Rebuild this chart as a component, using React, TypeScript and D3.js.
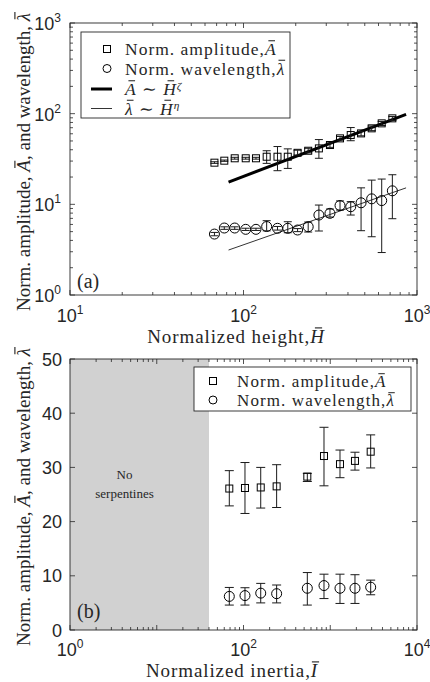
import React, { useRef, useEffect } from 'react';
import * as d3 from 'd3';

// ---------- Panel (a): vs normalized height ----------
const heightH = [68, 77.5, 89, 103, 118, 136, 157, 180, 205, 236, 272, 315, 360, 415, 476, 548, 626, 721];
const ampA = [28.8, 30.3, 32.2, 32.2, 32.2, 33.5, 33.5, 33.5, 37.0, 39.0, 41.4, 45.1, 53.4, 58.1, 60.6, 68.9, 78.2, 88.8];
const ampALo = [28.3, 29.8, 31.5, 31.5, 31.5, 28.3, 23.5, 24.9, 35.0, 37.0, 32.2, 42.5, 51.0, 50.3, 57.0, 65.0, 74.0, 84.0];
const ampAHi = [29.5, 30.8, 33.0, 33.0, 33.0, 39.0, 43.4, 40.9, 39.5, 41.5, 51.8, 47.5, 56.0, 70.3, 64.0, 73.0, 82.0, 93.0];
const wavA = [4.70, 5.48, 5.48, 5.30, 5.30, 5.69, 5.44, 5.44, 5.21, 5.66, 7.62, 7.96, 9.70, 9.41, 10.4, 11.5, 11.0, 14.1];
const wavALo = [4.5, 5.3, 5.3, 5.15, 5.15, 5.1, 5.2, 4.86, 5.0, 4.95, 5.08, 7.24, 8.65, 7.62, 5.12, 4.39, 2.94, 6.94];
const wavAHi = [4.9, 5.65, 5.65, 5.45, 5.45, 6.6, 5.7, 6.43, 5.4, 6.38, 9.82, 8.87, 10.9, 10.7, 15.2, 18.5, 19.0, 21.2];
// power-law fits
const fitRangeH = [82, 865];
const fitAmpCoef = 0.7036;
const fitAmpExp = 0.73; // zeta
const fitWavCoef = 0.1636;
const fitWavExp = 0.67; // eta

// ---------- Panel (b): vs normalized inertia ----------
const inertiaI = [68.6, 104, 158, 241, 544, 847, 1295, 1928, 2925];
const ampB = [26.1, 26.2, 26.3, 26.5, 28.3, 32.1, 30.6, 31.2, 32.9];
const ampBLo = [22.9, 21.5, 22.5, 22.6, 27.4, 26.6, 28.1, 29.5, 29.9];
const ampBHi = [29.4, 30.9, 30.0, 30.5, 28.9, 37.4, 33.2, 32.8, 36.0];
const wavB = [6.2, 6.35, 6.8, 6.7, 7.7, 8.2, 7.7, 7.7, 7.9];
const wavBLo = [4.6, 4.6, 5.0, 5.0, 4.6, 5.8, 4.9, 4.9, 6.5];
const wavBHi = [7.85, 7.8, 8.6, 8.3, 10.6, 10.3, 10.3, 10.2, 9.2];
const noSerpentineRange = [1, 40];

const topXTicks = [1, 2, 3];
const topYTicks = [0, 1, 2, 3];
const botXTicks = [0, 2, 4];
const botYTicks = [0, 10, 20, 30, 40, 50];

const SERIF = '"Liberation Serif", "DejaVu Serif", serif';
const SANS = '"Liberation Sans", Arial, sans-serif';
const INK = '#262626';

type Part = { s: string; it?: boolean; bar?: boolean; sup?: boolean };

export default function App() {
  const ref = useRef<SVGSVGElement>(null);

  useEffect(() => {
    const svg = d3.select(ref.current);
    svg.selectAll('*').remove();

    const topX = d3.scaleLog().domain([10, 1000]).range([70, 417]);
    const topY = d3.scaleLog().domain([1, 1000]).range([295, 23]);
    const botX = d3.scaleLog().domain([1, 1e4]).range([70, 417]);
    const botY = d3.scaleLinear().domain([0, 50]).range([630, 359]);

    function richText(
      parent: any, x: number, y: number, parts: Part[],
      o: { fs: number; anchor?: string; ls?: number; rotate?: boolean }
    ) {
      const g = parent.append('g')
        .attr('transform', o.rotate ? `translate(${x},${y}) rotate(-90)` : `translate(${x},${y})`);
      const t = g.append('text').attr('x', 0).attr('y', 0)
        .attr('font-family', SERIF).attr('font-size', o.fs).attr('fill', INK)
        .attr('text-anchor', o.anchor || 'start');
      if (o.ls) t.attr('letter-spacing', o.ls);
      let idx = 0;
      let supOn = false;
      const bars: { i: number; it: boolean }[] = [];
      parts.forEach((p) => {
        const ts = t.append('tspan').text(p.s);
        if (p.it) ts.attr('font-style', 'italic');
        if (p.sup) {
          ts.attr('font-size', o.fs * 0.65).attr('dy', -o.fs * 0.31);
          supOn = true;
        } else if (supOn) {
          ts.attr('dy', o.fs * 0.31);
          supOn = false;
        }
        if (p.bar) for (let k = 0; k < p.s.length; k++) bars.push({ i: idx + k, it: !!p.it });
        idx += p.s.length;
      });
      const node = t.node() as SVGTextElement;
      bars.forEach((b) => {
        try {
          const e = node.getExtentOfChar(b.i);
          const w = e.width - (o.ls || 0);
          const cx = e.x + w / 2 + (b.it ? 0.08 * o.fs : 0);
          const half = 0.19 * o.fs;
          const yb = e.y + 0.1 * o.fs;
          g.append('line').attr('x1', cx - half).attr('x2', cx + half)
            .attr('y1', yb).attr('y2', yb)
            .attr('stroke', INK).attr('stroke-width', 0.06 * o.fs);
        } catch (err) {
          /* ignore */
        }
      });
      return g;
    }

    function logTicks(lo: number, hi: number) {
      const major: number[] = [];
      const minor: number[] = [];
      for (let d = Math.round(Math.log10(lo)); d <= Math.round(Math.log10(hi)); d++) {
        major.push(Math.pow(10, d));
        for (let k = 2; k <= 9; k++) {
          const v = k * Math.pow(10, d);
          if (v < hi) minor.push(v);
        }
      }
      return { major, minor };
    }

    function drawFrame(g: any, x: any, y: any, xLog: boolean, yLog: boolean) {
      const [x0, x1] = x.range();
      const [y0, y1] = y.range();
      const tk = g.append('g').attr('stroke', INK).attr('stroke-width', 0.8);
      const xd = x.domain();
      const yd = y.domain();
      const xt = xLog ? logTicks(xd[0], xd[1]) : { major: x.ticks(), minor: [] };
      const yt = yLog ? logTicks(yd[0], yd[1]) : { major: y.ticks(5), minor: [] };
      const drawX = (vals: number[], len: number) => {
        vals.forEach((v) => {
          const px = x(v);
          tk.append('line').attr('x1', px).attr('x2', px).attr('y1', y0).attr('y2', y0 - len);
          tk.append('line').attr('x1', px).attr('x2', px).attr('y1', y1).attr('y2', y1 + len);
        });
      };
      const drawY = (vals: number[], len: number) => {
        vals.forEach((v) => {
          const py = y(v);
          tk.append('line').attr('x1', x0).attr('x2', x0 + len).attr('y1', py).attr('y2', py);
          tk.append('line').attr('x1', x1).attr('x2', x1 - len).attr('y1', py).attr('y2', py);
        });
      };
      drawX(xt.major, 5);
      drawX(xt.minor, 3);
      drawY(yt.major, 5);
      drawY(yt.minor, 3);
      g.append('rect')
        .attr('x', x0).attr('y', y1).attr('width', x1 - x0).attr('height', y0 - y1)
        .attr('fill', 'none').attr('stroke', INK).attr('stroke-width', 0.9);
    }

    function powLabel(g: any, px: number, py: number, exp: number, anchor: string) {
      const t = g.append('text').attr('x', px).attr('y', py)
        .attr('font-family', SANS).attr('font-size', 18).attr('fill', INK)
        .attr('text-anchor', anchor);
      t.append('tspan').text('10');
      t.append('tspan').attr('font-size', 12).attr('dy', -8).text(String(exp));
    }

    function errorBars(g: any, xs: number[], lo: number[], hi: number[], x: any, y: any, cap: number) {
      xs.forEach((xv, i) => {
        const px = x(xv);
        const a = y(lo[i]);
        const b = y(hi[i]);
        g.append('line').attr('x1', px).attr('x2', px).attr('y1', a).attr('y2', b);
        g.append('line').attr('x1', px - cap / 2).attr('x2', px + cap / 2).attr('y1', a).attr('y2', a);
        g.append('line').attr('x1', px - cap / 2).attr('x2', px + cap / 2).attr('y1', b).attr('y2', b);
      });
    }

    function squares(g: any, xs: number[], vs: number[], x: any, y: any, s: number) {
      xs.forEach((xv, i) => {
        g.append('rect').attr('x', x(xv) - s / 2).attr('y', y(vs[i]) - s / 2)
          .attr('width', s).attr('height', s);
      });
    }
    function circles(g: any, xs: number[], vs: number[], x: any, y: any, r: number) {
      xs.forEach((xv, i) => {
        g.append('circle').attr('cx', x(xv)).attr('cy', y(vs[i])).attr('r', r);
      });
    }

    const yLabelParts: Part[] = [
      { s: 'Norm. amplitude, ' },
      { s: 'A', it: true, bar: true },
      { s: ', and wavelength, ' },
      { s: '\u03BB', it: true, bar: true },
    ];

    // ================= Panel (a) =================
    const ga = svg.append('g');
    const line = d3.line<number[]>().x((d) => topX(d[0])).y((d) => topY(d[1]));
    ga.append('path')
      .attr('d', line(fitRangeH.map((h) => [h, fitAmpCoef * Math.pow(h, fitAmpExp)])))
      .attr('stroke', '#000').attr('stroke-width', 3).attr('fill', 'none');
    ga.append('path')
      .attr('d', line(fitRangeH.map((h) => [h, fitWavCoef * Math.pow(h, fitWavExp)])))
      .attr('stroke', '#000').attr('stroke-width', 0.8).attr('fill', 'none');

    const eba = ga.append('g').attr('stroke', '#1a1a1a').attr('stroke-width', 1);
    errorBars(eba, heightH, ampALo, ampAHi, topX, topY, 8);
    errorBars(eba, heightH, wavALo, wavAHi, topX, topY, 8);
    const mka = ga.append('g').attr('stroke', '#000').attr('stroke-width', 1).attr('fill', 'none');
    squares(mka, heightH, ampA, topX, topY, 7);
    circles(mka, heightH, wavA, topX, topY, 5);

    drawFrame(ga, topX, topY, true, true);

    topXTicks.forEach((e) => powLabel(ga, topX(Math.pow(10, e)), 322, e, 'middle'));
    topYTicks.forEach((e) => powLabel(ga, 61, topY(Math.pow(10, e)) + 7, e, 'end'));

    // legend (a)
    const la = ga.append('g');
    la.append('rect').attr('x', 81).attr('y', 32).attr('width', 209).attr('height', 86)
      .attr('fill', '#fff').attr('stroke', INK).attr('stroke-width', 0.9);
    const rowsA = [49, 68.5, 89, 108.5];
    la.append('rect').attr('x', 107 - 3.5).attr('y', rowsA[0] - 3.5).attr('width', 7).attr('height', 7)
      .attr('fill', 'none').attr('stroke', '#000');
    la.append('circle').attr('cx', 107).attr('cy', rowsA[1]).attr('r', 4)
      .attr('fill', 'none').attr('stroke', '#000');
    la.append('line').attr('x1', 91).attr('x2', 112).attr('y1', rowsA[2]).attr('y2', rowsA[2])
      .attr('stroke', '#000').attr('stroke-width', 3);
    la.append('line').attr('x1', 91).attr('x2', 112).attr('y1', rowsA[3]).attr('y2', rowsA[3])
      .attr('stroke', '#000').attr('stroke-width', 0.8);
    const legOpt = { fs: 17.5, ls: 1.0 };
    richText(la, 125, rowsA[0] + 6, [{ s: 'Norm. amplitude,' }, { s: 'A', it: true, bar: true }], legOpt);
    richText(la, 125, rowsA[1] + 6, [{ s: 'Norm. wavelength,' }, { s: '\u03BB', it: true, bar: true }], legOpt);
    richText(la, 125, rowsA[2] + 6, [
      { s: 'A', it: true, bar: true }, { s: ' \u223C ' }, { s: 'H', it: true, bar: true },
      { s: '\u03B6', it: true, sup: true },
    ], legOpt);
    richText(la, 125, rowsA[3] + 6, [
      { s: '\u03BB', it: true, bar: true }, { s: ' \u223C ' }, { s: 'H', it: true, bar: true },
      { s: '\u03B7', it: true, sup: true },
    ], legOpt);

    ga.append('text').attr('x', 77).attr('y', 288).attr('font-family', SERIF)
      .attr('font-size', 20).attr('fill', INK).text('(a)');

    richText(ga, 236, 343, [{ s: 'Normalized height,' }, { s: 'H', it: true, bar: true }],
      { fs: 19, anchor: 'middle', ls: 0.9 });

    richText(svg, 30, 162, yLabelParts, { fs: 19, anchor: 'middle', rotate: true });

    // ================= Panel (b) =================
    const gb = svg.append('g');
    gb.append('rect')
      .attr('x', botX(noSerpentineRange[0])).attr('y', botY(50))
      .attr('width', botX(noSerpentineRange[1]) - botX(noSerpentineRange[0]))
      .attr('height', botY(0) - botY(50)).attr('fill', '#d1d1d1');
    const nsx = (botX(noSerpentineRange[0]) + botX(noSerpentineRange[1])) / 2 - 15;
    gb.append('text').attr('x', nsx).attr('y', 479).attr('text-anchor', 'middle')
      .attr('font-family', SERIF).attr('font-size', 13).attr('fill', INK).text('No');
    gb.append('text').attr('x', nsx).attr('y', 498).attr('text-anchor', 'middle')
      .attr('font-family', SERIF).attr('font-size', 13).attr('fill', INK).text('serpentines');

    const ebb = gb.append('g').attr('stroke', '#1a1a1a').attr('stroke-width', 1);
    errorBars(ebb, inertiaI, ampBLo, ampBHi, botX, botY, 9);
    errorBars(ebb, inertiaI, wavBLo, wavBHi, botX, botY, 9);
    const mkb = gb.append('g').attr('stroke', '#000').attr('stroke-width', 1).attr('fill', 'none');
    squares(mkb, inertiaI, ampB, botX, botY, 7);
    circles(mkb, inertiaI, wavB, botX, botY, 5);

    drawFrame(gb, botX, botY, true, false);

    botXTicks.forEach((e) => powLabel(gb, botX(Math.pow(10, e)), 656, e, 'middle'));
    botYTicks.forEach((v) => {
      gb.append('text').attr('x', 62).attr('y', botY(v) + 6.5).attr('text-anchor', 'end')
        .attr('font-family', SANS).attr('font-size', 18).attr('fill', INK).text(String(v));
    });

    // legend (b)
    const lb = gb.append('g');
    lb.append('rect').attr('x', 194).attr('y', 367).attr('width', 217).attr('height', 44)
      .attr('fill', '#fff').attr('stroke', INK).attr('stroke-width', 0.9);
    lb.append('rect').attr('x', 213 - 3.5).attr('y', 381 - 3.5).attr('width', 7).attr('height', 7)
      .attr('fill', 'none').attr('stroke', '#000');
    lb.append('circle').attr('cx', 213).attr('cy', 400).attr('r', 4)
      .attr('fill', 'none').attr('stroke', '#000');
    const legOptB = { fs: 17, ls: 1.1 };
    richText(lb, 237, 387, [{ s: 'Norm. amplitude,' }, { s: 'A', it: true, bar: true }], legOptB);
    richText(lb, 237, 406, [{ s: 'Norm. wavelength,' }, { s: '\u03BB', it: true, bar: true }], legOptB);

    gb.append('text').attr('x', 77).attr('y', 618).attr('font-family', SERIF)
      .attr('font-size', 20).attr('fill', INK).text('(b)');

    richText(gb, 232, 677, [{ s: 'Normalized inertia,' }, { s: 'I', it: true, bar: true }],
      { fs: 19, anchor: 'middle', ls: 0.9 });

    richText(svg, 30, 497, yLabelParts, { fs: 19, anchor: 'middle', rotate: true });
  }, []);

  return (
    <svg
      ref={ref}
      width={430}
      height={682}
      style={{ position: 'absolute', left: 0, top: 0, background: '#fff' }}
    />
  );
}
